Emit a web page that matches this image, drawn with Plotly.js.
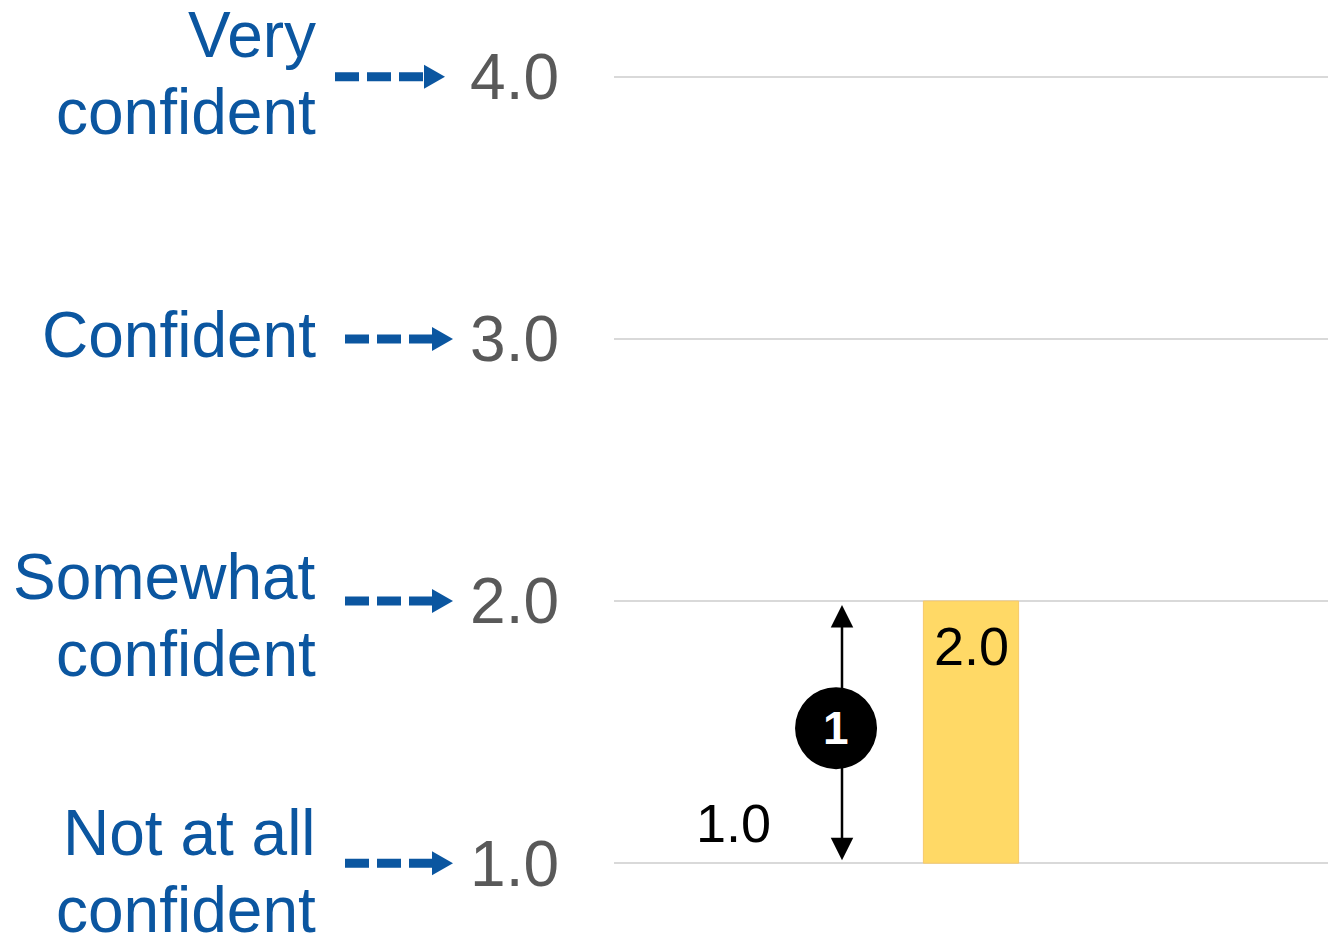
<!DOCTYPE html>
<html>
<head>
<meta charset="utf-8">
<script src="https://cdn.plot.ly/plotly-3.0.1.min.js"></script>
<style>html,body{margin:0;padding:0;background:#fff;}#chart{width:1330px;height:937px;}</style>
</head>
<body>
<div id="chart"></div>
<script>
// ---- data ----
const categories = ["A", "B", "C"];
const scores = [1.0, 2.0, null];
const tickValues = [1, 2, 3, 4];
const tickLabels = ["1.0", "2.0", "3.0", "4.0"];
const levelNames = ["Not at all<br>confident", "Somewhat<br>confident", "Confident", "Very<br>confident"];
const gapBadge = "1";
const gapFrom = 1.0, gapTo = 2.0;

// ---- style ----
const FONT = "Liberation Sans, Arial, sans-serif";
const BLUE = "#0B56A0";
const GREY = "#595959";
const Y_RANGE = [0.97, 4.03];
const BASE = 1;
const toPaper = v => (v - Y_RANGE[0]) / (Y_RANGE[1] - Y_RANGE[0]);

const trace = {
  type: "bar",
  x: categories,
  y: scores.map(v => v == null ? null : v - BASE),
  base: BASE,
  width: 0.4,
  marker: {
    color: "#FFD966",
    line: {color: "#F7C96B", width: scores.map(v => (v == null || v === BASE) ? 0 : 1)}
  },
  hoverinfo: "skip"
};

const shapes = [];
const annotations = [];

// value labels
const labelShift = [40, -45, 0];
scores.forEach((v, i) => {
  if (v == null) return;
  annotations.push({
    x: categories[i], y: v, xref: "x", yref: "y", showarrow: false,
    yanchor: "middle", yshift: labelShift[i], text: v.toFixed(1),
    font: {family: FONT, size: 54, color: "#000"}
  });
});

// left labels + dashed arrows
const arrowStart = [-269, -269, -269, -279];
const arrowEnd = [-161, -161, -161, -169];
const labelCenterShift = [-8.5, -14.5, 4, 3];
const LINE = 77;
tickValues.forEach((v, i) => {
  const lines = levelNames[i].split("<br>");
  lines.forEach((ln, j) => {
    const off = (j - (lines.length - 1) / 2) * LINE;
    annotations.push({
      xref: "paper", yref: "y", x: 0, y: v, xanchor: "right", yanchor: "middle",
      xshift: -296, yshift: labelCenterShift[i] - off, align: "right", showarrow: false,
      text: ln, font: {family: FONT, size: 64, color: BLUE}
    });
  });
  const tipLen = 21;
  const py = toPaper(v);
  shapes.push({
    type: "line", xref: "paper", yref: "paper", xsizemode: "pixel", ysizemode: "pixel",
    xanchor: 0, yanchor: py, x0: arrowStart[i], x1: arrowEnd[i] - tipLen + 1, y0: 0, y1: 0,
    line: {color: BLUE, width: 9, dash: "24px,8px"}
  });
  const xe = arrowEnd[i], xb = arrowEnd[i] - tipLen;
  shapes.push({
    type: "path", xref: "paper", yref: "paper", xsizemode: "pixel", ysizemode: "pixel",
    xanchor: 0, yanchor: py,
    path: `M ${xb},-12 L ${xe},0 L ${xb},12 Z`,
    fillcolor: BLUE, line: {width: 0}
  });
});

// gap arrow with badge
const gx = 0.458, cx = 0.433, cy = (gapFrom + gapTo) / 2 + 0.015;
annotations.push({
  x: gx, y: gapTo, ax: gx, ay: cy + 0.14, axref: "x", ayref: "y",
  showarrow: true, arrowhead: 2, arrowsize: 1.8, arrowwidth: 2.5, arrowcolor: "#000",
  standoff: 4, text: ""
});
annotations.push({
  x: gx, y: gapFrom, ax: gx, ay: cy - 0.14, axref: "x", ayref: "y",
  showarrow: true, arrowhead: 2, arrowsize: 1.8, arrowwidth: 2.5, arrowcolor: "#000",
  standoff: 3, text: ""
});
shapes.push({
  type: "circle", xref: "x", yref: "y", xsizemode: "pixel", ysizemode: "pixel",
  xanchor: cx, yanchor: cy, x0: -41, x1: 41, y0: -41, y1: 41,
  fillcolor: "#000", line: {width: 0}, layer: "above"
});
annotations.push({
  x: cx, y: cy, showarrow: false, text: "<b>" + gapBadge + "</b>",
  font: {family: FONT, size: 46, color: "#fff"}, xanchor: "center", yanchor: "middle"
});

const layout = {
  width: 1330, height: 937,
  margin: {l: 614, r: 2, t: 69, b: 66, pad: 0},
  paper_bgcolor: "#fff", plot_bgcolor: "#fff",
  showlegend: false,
  font: {family: FONT},
  xaxis: {type: "category", range: [-0.5, 2.5], showticklabels: false, showgrid: false,
          zeroline: false, showline: false, ticks: "", fixedrange: true},
  yaxis: {range: Y_RANGE, tickvals: tickValues, ticktext: tickLabels, ticks: "",
          tickfont: {family: FONT, size: 64, color: GREY}, ticklabelstandoff: 54,
          showgrid: true, gridcolor: "#D9D9D9", gridwidth: 2, zeroline: false, showline: false,
          fixedrange: true},
  shapes: shapes,
  annotations: annotations
};

Plotly.newPlot("chart", [trace], layout, {displayModeBar: false, staticPlot: true});
</script>
</body>
</html>
